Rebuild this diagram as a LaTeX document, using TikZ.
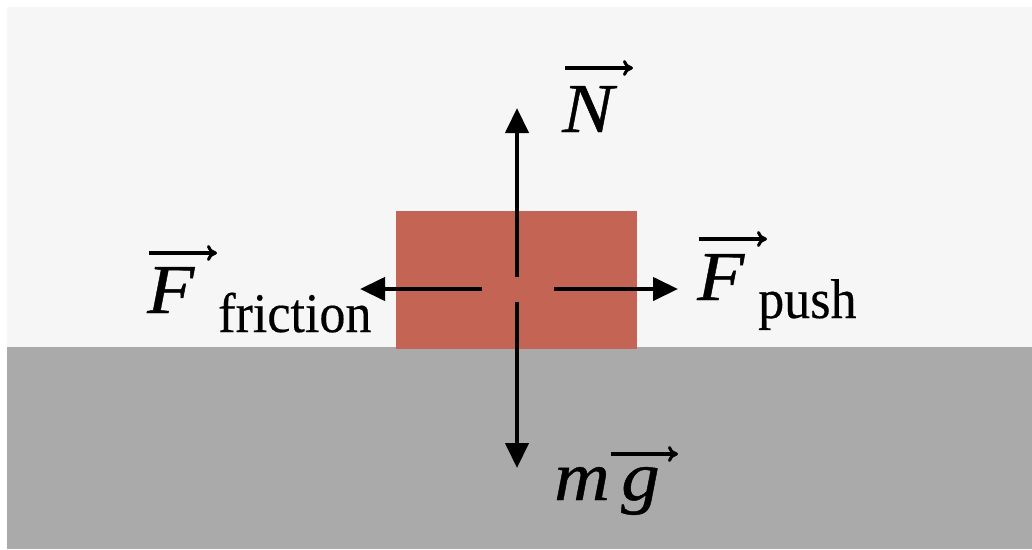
\documentclass[tikz,border=0pt]{standalone}
\usepackage{fontspec}
\setmainfont{Liberation Serif}
\newfontfamily\symfont[FakeStretch=1.1,FakeBold=0.6]{Liberation Serif}
\newfontfamily\subfont[FakeStretch=0.93,FakeBold=0.3]{Liberation Serif}
\usetikzlibrary{arrows.meta}
\definecolor{skybg}{RGB}{246,246,246}
\definecolor{groundbg}{RGB}{170,170,170}
\definecolor{blockred}{RGB}{196,100,84}
\tikzset{
  x=1pt,y=-1pt,
  force/.style={line width=4.2pt,-{Triangle[length=25pt,width=23pt]}},
  vecbar/.style={line width=3.2pt,-{To[length=10pt,width=16pt,line width=3pt]}},
  sym/.style={inner sep=0pt,font=\symfont\fontsize{70}{70}\selectfont\itshape,anchor=base west},
  sub/.style={inner sep=0pt,font=\subfont\fontsize{56}{56}\selectfont,anchor=base west},
}
\begin{document}
\begin{tikzpicture}
\useasboundingbox (0,0) rectangle (1032,549);
\fill[white] (0,0) rectangle (1032,549);
\fill[skybg] (7,7) rectangle (1032,347);
\fill[groundbg] (7,347) rectangle (1032,549);
\node[fill=blockred,minimum width=241pt,minimum height=138pt,inner sep=0pt,anchor=north west] (block) at (396,211) {};
% force arrows
\coordinate (nstart) at (517,277);
\coordinate (ntip) at (517,108);
\coordinate (gstart) at (517,302);
\coordinate (gtip) at (517,468);
\coordinate (fstart) at (482,289);
\coordinate (ftip) at (360,289);
\coordinate (pstart) at (554,289);
\coordinate (ptip) at (678,289);
\draw[force] (nstart) -- (ntip);
\draw[force] (gstart) -- (gtip);
\draw[force] (fstart) -- (ftip);
\draw[force] (pstart) -- (ptip);
% labels
\node[sym] (N) at (562,132) {N};
\coordinate (na) at (565,68);
\coordinate (nb) at (633,68);
\draw[vecbar] (na) -- (nb);
\node[sym] (F1) at (147,313) {F};
\node[sub] (fric) at (218,332) {friction};
\coordinate (fa) at (149,253);
\coordinate (fb) at (217,253);
\draw[vecbar] (fa) -- (fb);
\node[sym] (F2) at (697,300) {F};
\node[sub] (push) at (758,318) {push};
\coordinate (pa) at (699,239);
\coordinate (pb) at (767,239);
\draw[vecbar] (pa) -- (pb);
\node[sym] (m) at (554,500) {m};
\node[sym] (g) at (621,500) {g};
\coordinate (ga) at (611,454);
\coordinate (gb) at (678,454);
\draw[vecbar] (ga) -- (gb);
\end{tikzpicture}
\end{document}
